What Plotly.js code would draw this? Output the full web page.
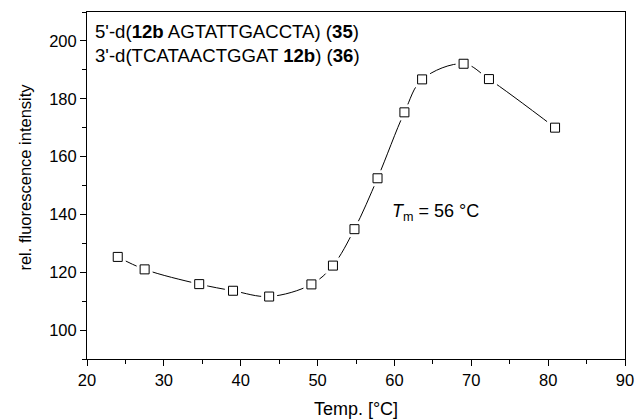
<!DOCTYPE html>
<html><head><meta charset="utf-8">
<script src="https://cdn.plot.ly/plotly-3.0.1.min.js"></script>
<style>
html,body{margin:0;padding:0;background:#fff}#chart{width:638px;height:419px}
</style>
</head><body><div id="chart"></div>
<script>
const temps = [24.0, 27.5, 34.6, 39.0, 43.7, 49.2, 52.0, 54.8, 57.8, 61.3, 63.6, 69.0, 72.3, 80.9];
const intensity = [125.3, 121.0, 115.9, 113.6, 111.6, 115.8, 122.3, 134.9, 152.5, 175.3, 186.7, 192.1, 186.8, 170.0];
const xTicks = [20, 30, 40, 50, 60, 70, 80, 90];
const yTicks = [100, 120, 140, 160, 180, 200];
const F = "Liberation Sans, Arial, sans-serif";

const traces = [
  {x: temps, y: intensity, mode: 'lines', line: {shape: 'spline', smoothing: 1, color: '#000', width: 1}, hoverinfo: 'skip'},
  {x: temps, y: intensity, mode: 'markers', marker: {symbol: 'square', size: 16, color: '#fff', line: {width: 0}}, hoverinfo: 'skip'},
  {x: temps, y: intensity, mode: 'markers', marker: {symbol: 'square', size: 9, color: '#fff', line: {color: '#000', width: 1}}}
];

const layout = {
  width: 638, height: 419,
  margin: {l: 87, r: 13, t: 12, b: 60},
  showlegend: false,
  paper_bgcolor: '#fff', plot_bgcolor: '#fff',
  font: {family: F, size: 16.5, color: '#000'},
  xaxis: {
    range: [20, 90], tickvals: xTicks, ticktext: xTicks.map(String),
    ticks: 'outside', ticklen: 6, tickwidth: 1, tickcolor: '#000',
    minor: {dtick: 5, ticks: 'outside', ticklen: 4, tickcolor: '#000', tickwidth: 1},
    showline: true, linecolor: '#000', linewidth: 1, mirror: true,
    showgrid: false, zeroline: false,
    tickfont: {family: F, size: 16.5},
    title: {text: 'Temp. [°C]', font: {family: F, size: 18}, standoff: 14}
  },
  yaxis: {
    range: [90, 210], tickvals: yTicks, ticktext: yTicks.map(String),
    ticks: 'outside', ticklen: 6, tickwidth: 1, tickcolor: '#000',
    minor: {dtick: 10, ticks: 'outside', ticklen: 4, tickcolor: '#000', tickwidth: 1},
    showline: true, linecolor: '#000', linewidth: 1, mirror: true,
    showgrid: false, zeroline: false,
    tickfont: {family: F, size: 16.5}
  },
  annotations: [
    {xref: 'paper', yref: 'y', x: 0.011, y: 203.4, xanchor: 'left', yanchor: 'middle', showarrow: false,
     text: "5'-d(<b>12b</b> AGTATTGACCTA) (<b>35</b>)", font: {family: F, size: 18.6}},
    {xref: 'paper', yref: 'y', x: 0.011, y: 194.8, xanchor: 'left', yanchor: 'middle', showarrow: false,
     text: "3'-d(TCATAACTGGAT <b>12b</b>) (<b>36</b>)", font: {family: F, size: 18.6}},
    {xref: 'x', yref: 'y', x: 59.4, y: 140.5, xanchor: 'left', yanchor: 'middle', showarrow: false,
     text: "<i>T</i><sub>m</sub> = 56 °C", font: {family: F, size: 18}},
    {xref: 'paper', yref: 'paper', x: -0.117, y: 0.523, xanchor: 'center', yanchor: 'middle', showarrow: false,
     textangle: -90, text: 'rel. fluorescence intensity', font: {family: F, size: 16.5}}
  ]
};
Plotly.newPlot('chart', traces, layout, {staticPlot: true});
</script></body></html>
